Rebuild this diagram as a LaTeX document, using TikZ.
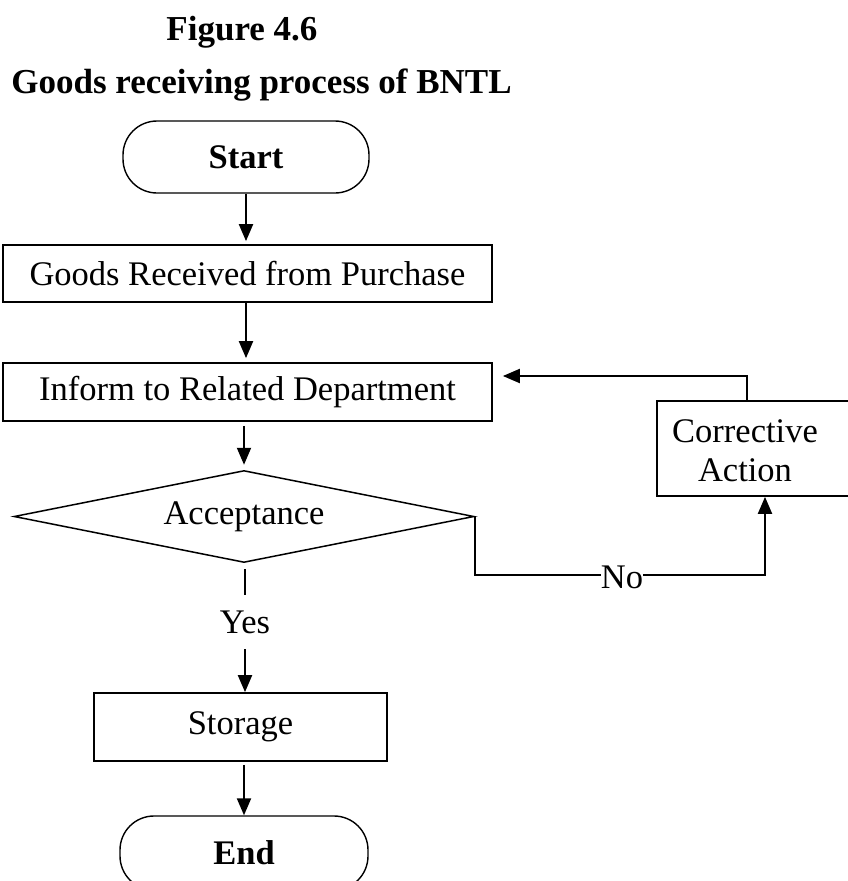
\documentclass[tikz,border=0pt]{standalone}
\usepackage{fontspec}
\setmainfont{Liberation Serif}
\usetikzlibrary{arrows.meta,shapes.geometric}
\tikzset{
  every node/.style={font=\fontsize{34.5}{39}\selectfont, inner sep=0pt},
  titletext/.style={font=\fontsize{35}{40}\selectfont\bfseries},
  box/.style={draw, line width=1.7pt, rectangle, align=center},
  term/.style={draw, line width=1.4pt, rectangle, rounded corners=34pt},
  decision/.style={draw, line width=1.5pt, diamond, aspect=5},
  conn/.style={line width=2pt},
  arr/.style={conn, -{Triangle[length=17pt,width=14pt]}}
}
\begin{document}
\begin{tikzpicture}[x=1pt,y=-1pt]
\useasboundingbox (0,0) rectangle (848,881);
\node[titletext, anchor=base] (fig) at (242,40) {Figure 4.6};
\node[titletext, anchor=base] (ttl) at (261.5,93) {Goods receiving process of BNTL};

\node[term, minimum width=246pt, minimum height=72pt] (start) at (246,157) {\bfseries Start};
\node[box, minimum width=489pt, minimum height=57pt] (goods) at (247.5,273.5) {Goods Received from Purchase};
\node[box, minimum width=489pt, minimum height=58pt] (inform) at (247.5,392) {Inform to Related Department};
\node[decision, minimum width=460pt, minimum height=92pt] (acc) at (244,516.5) {Acceptance};
\node[minimum height=54pt] (yes) at (245,622) {Yes};
\node[box, minimum width=293pt, minimum height=68pt] (storage) at (240.5,727) {Storage};
\node[term, minimum width=248pt, minimum height=74pt] (end) at (244,853) {\bfseries End};
\node[box, minimum width=203pt, minimum height=95pt] (corr) at (758.5,448.5) {};
\node[align=center] (corrtext) at (745,451) {Corrective\\Action};
\node (no) at (622,577) {No};

\draw[arr, shorten >=3pt] (start.south) -- (start.south |- goods.north);
\draw[arr, shorten >=4pt] (goods.south -| start.south) -- (inform.north -| start.south);
\draw[arr, shorten <=4pt, shorten >=5pt] (inform.south -| acc.north) -- (acc.north);
\draw[conn] ([yshift=-6pt]yes.north |- acc.south) -- (yes.north);
\draw[arr] (yes.south) -- (yes.south |- storage.north);
\draw[arr, shorten <=3pt] (storage.south -| end.north) -- (end.north);
\draw[conn] (acc.east) |- ([yshift=2pt]no.west);
\draw[arr] ([yshift=2pt]no.east) -| ([xshift=6.5pt]corr.south);
\draw[arr] ([xshift=-11.5pt]corr.north) |- ([xshift=10pt,yshift=16pt]inform.east);
\end{tikzpicture}
\end{document}
